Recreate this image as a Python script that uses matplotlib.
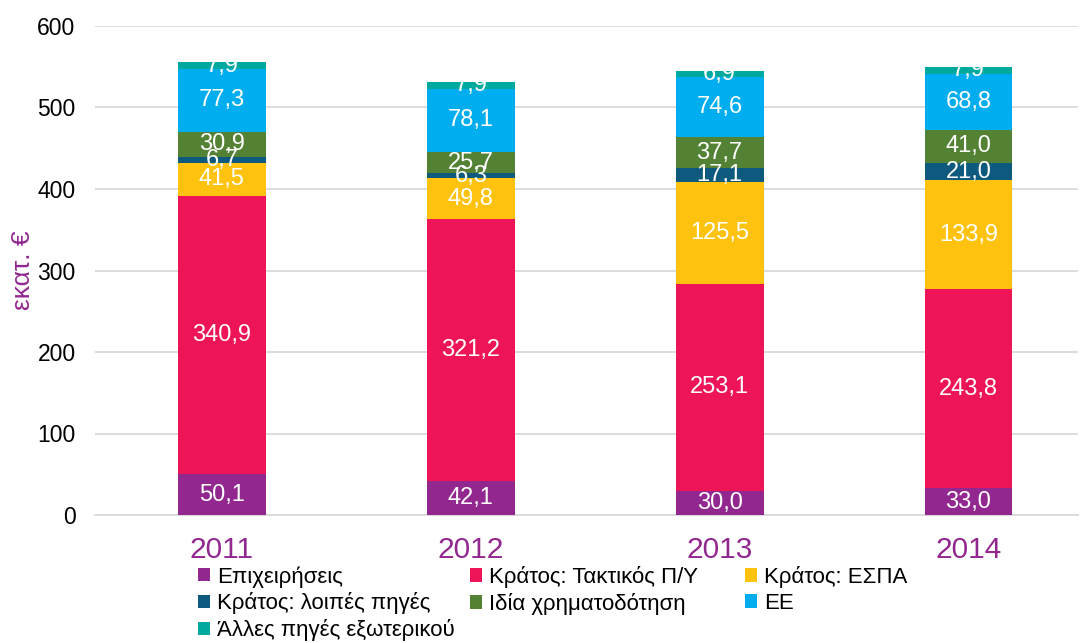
import matplotlib
matplotlib.use("Agg")
import matplotlib.pyplot as plt
import numpy as np

plt.rcParams['font.family'] = ['Liberation Sans', 'DejaVu Sans']

years = ["2011", "2012", "2013", "2014"]
series_names = ["Επιχειρήσεις", "Κράτος: Τακτικός Π/Υ", "Κράτος: ΕΣΠΑ",
                "Κράτος: λοιπές πηγές", "Ιδία χρηματοδότηση", "ΕΕ",
                "Άλλες πηγές εξωτερικού"]
epixeiriseis = [50.1, 42.1, 30.0, 33.0]
taktikos = [340.9, 321.2, 253.1, 243.8]
espa = [41.5, 49.8, 125.5, 133.9]
loipes = [6.7, 6.3, 17.1, 21.0]
idia = [30.9, 25.7, 37.7, 41.0]
ee = [77.3, 78.1, 74.6, 68.8]
alles = [7.9, 7.9, 6.9, 7.9]
colors = ["#92278F", "#ED1558", "#FFC20E", "#0E5A7E", "#548235", "#00AEEF", "#00A99D"]

data = [epixeiriseis, taktikos, espa, loipes, idia, ee, alles]

fig = plt.figure(figsize=(10.8, 6.43), dpi=100)
ax = fig.add_axes([95/1080, 128/643, (1078-95)/1080, (515-26)/643])

x = np.arange(len(years))
bottom = np.zeros(len(years))
handles = []
for name, vals, c in zip(series_names, data, colors):
    vals = np.array(vals)
    h = ax.bar(x, vals, 0.353, bottom=bottom, color=c, label=name, zorder=3)
    handles.append(h)
    for xi, b, v in zip(x, bottom, vals):
        ax.text(xi, b + v / 2, f"{v:.1f}".replace(".", ","), ha="center", va="center",
                color="white", fontsize=17, zorder=4)
    bottom += vals

ax.set_ylim(0, 600)
ax.set_xlim(-0.51, 3.44)
ax.set_yticks(range(0, 601, 100))
ax.yaxis.grid(True, color="#D9D9D9", linewidth=1.3, zorder=0)
ax.set_axisbelow(True)
for s in ["top", "right", "left"]:
    ax.spines[s].set_visible(False)
ax.spines["bottom"].set_color("#D9D9D9")
ax.spines["bottom"].set_linewidth(1.3)
ax.tick_params(axis="y", length=0, labelsize=16.5, pad=14)
ax.tick_params(axis="x", length=0, labelsize=21.5, labelcolor="#92278F", pad=15)
ax.set_xticks(x)
ax.set_xticklabels(years)
ax.set_ylabel("εκατ. €", color="#92278F", fontsize=19)
ax.yaxis.set_label_coords(-0.061, 0.5)

# legend in three columns, row-major order
col_x = [198, 470, 745]
cols = [[0, 3, 6], [1, 4], [2, 5]]
for cx, idxs in zip(col_x, cols):
    leg = fig.legend([handles[i] for i in idxs], [series_names[i] for i in idxs],
                     loc="upper left", bbox_to_anchor=(cx / 1080, 1 - 566 / 643),
                     ncol=1, frameon=False, fontsize=16, handlelength=0.55,
                     handleheight=0.55, handletextpad=0.3, labelspacing=0.22,
                     borderpad=0, borderaxespad=0)

fig.savefig("out.png", dpi=100)
